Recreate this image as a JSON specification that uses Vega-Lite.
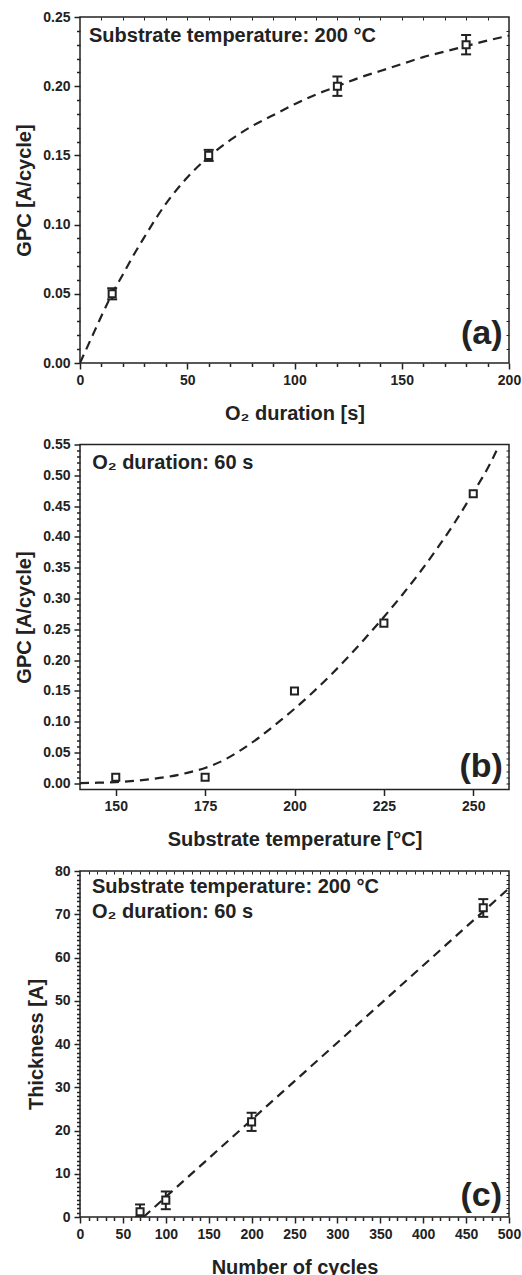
{
  "$schema": "https://vega.github.io/schema/vega-lite/v6.json",
  "padding": {"left": 14, "top": 9, "right": 0, "bottom": 5},
  "spacing": 81.5,
  "bounds": "flush",
  "datasets": {
    "fitA": [{"t":0,"g":0},{"t":5,"g":0.017},{"t":10,"g":0.034},{"t":15,"g":0.05},{"t":20,"g":0.064},{"t":25,"g":0.078},{"t":30,"g":0.091},{"t":40,"g":0.115},{"t":50,"g":0.134},{"t":60,"g":0.149},{"t":70,"g":0.161},{"t":80,"g":0.171},{"t":90,"g":0.179},{"t":100,"g":0.187},{"t":110,"g":0.194},{"t":120,"g":0.2},{"t":130,"g":0.206},{"t":140,"g":0.211},{"t":150,"g":0.216},{"t":160,"g":0.221},{"t":170,"g":0.225},{"t":180,"g":0.229},{"t":190,"g":0.233},{"t":200,"g":0.2365}],
    "ptsA": [{"t":15,"g":0.05,"lo":0.046,"hi":0.054},{"t":60,"g":0.15,"lo":0.146,"hi":0.154},{"t":120,"g":0.2,"lo":0.193,"hi":0.207},{"t":180,"g":0.23,"lo":0.223,"hi":0.237}],
    "fitB": [{"T":140,"g":0.0005},{"T":145,"g":0.001},{"T":150,"g":0.002},{"T":155,"g":0.004},{"T":160,"g":0.007},{"T":165,"g":0.011},{"T":170,"g":0.017},{"T":175,"g":0.025},{"T":180,"g":0.037},{"T":185,"g":0.054},{"T":190,"g":0.074},{"T":195,"g":0.097},{"T":200,"g":0.121},{"T":205,"g":0.147},{"T":210,"g":0.175},{"T":215,"g":0.205},{"T":220,"g":0.237},{"T":225,"g":0.27},{"T":230,"g":0.305},{"T":235,"g":0.342},{"T":240,"g":0.382},{"T":245,"g":0.425},{"T":250,"g":0.472},{"T":255,"g":0.522},{"T":256.5,"g":0.54}],
    "ptsB": [{"T":150,"g":0.01},{"T":175,"g":0.01},{"T":200,"g":0.15},{"T":225,"g":0.26},{"T":250,"g":0.47}],
    "fitC": [{"n":74,"th":0},{"n":500,"th":76}],
    "ptsC": [{"n":70,"th":1.2,"lo":0,"hi":2.9},{"n":100,"th":3.9,"lo":1.8,"hi":5.9},{"n":200,"th":22,"lo":19.9,"hi":24.1},{"n":470,"th":71.5,"lo":69.4,"hi":73.5}]
  },
  "vconcat": [
    {
      "width": 429, "height": 346,
      "resolve": {"axis": {"x": "independent", "y": "independent"}},
      "layer": [
        {
          "data": {"name": "fitA"},
          "mark": {"type": "line", "strokeDash": [9, 6], "strokeWidth": 2.2, "color": "#222", "interpolate": "monotone", "clip": true},
          "encoding": {
            "x": {"field": "t", "type": "quantitative", "scale": {"domain": [0, 200], "nice": false, "zero": false},
                  "axis": {"orient": "bottom", "values": [0,10,20,30,40,50,60,70,80,90,100,110,120,130,140,150,160,170,180,190,200],
                           "labelExpr": "datum.value % 50 === 0 ? datum.label : ''",
                           "tickSize": {"condition": {"test": "datum.value % 50 === 0", "value": 6}, "value": 3.5},
                           "title": "O₂ duration [s]"}},
            "y": {"field": "g", "type": "quantitative", "scale": {"domain": [0, 0.25], "nice": false},
                  "axis": {"orient": "left", "values": [0,0.01,0.02,0.03,0.04,0.05,0.06,0.07,0.08,0.09,0.1,0.11,0.12,0.13,0.14,0.15,0.16,0.17,0.18,0.19,0.2,0.21,0.22,0.23,0.24,0.25],
                           "labelExpr": "round(datum.value*100) % 5 === 0 ? format(datum.value, '.2f') : ''",
                           "tickSize": {"condition": {"test": "round(datum.value*100) % 5 === 0", "value": 6}, "value": 3.5},
                           "title": "GPC [A/cycle]", "titlePadding": 8}}
          }
        },
        {
          "data": {"name": "ptsA"},
          "mark": {"type": "rule", "strokeWidth": 2, "color": "#222"},
          "encoding": {
            "x": {"field": "t", "type": "quantitative", "axis": null},
            "y": {"field": "lo", "type": "quantitative", "axis": null},
            "y2": {"field": "hi"}
          }
        },
        {
          "data": {"values": [{}]},
          "mark": {"type": "text", "text": "Substrate temperature: 200 °C", "align": "left", "baseline": "alphabetic", "fontSize": 20},
          "encoding": {
            "x": {"datum": 4.2, "type": "quantitative", "axis": {"orient": "top", "values": [10,20,30,40,50,60,70,80,90,100,110,120,130,140,150,160,170,180,190], "labels": false, "tickSize": -3, "title": null, "tickWidth": 1}},
            "y": {"datum": 0.232, "type": "quantitative", "axis": {"orient": "right", "values": [0.01,0.02,0.03,0.04,0.05,0.06,0.07,0.08,0.09,0.1,0.11,0.12,0.13,0.14,0.15,0.16,0.17,0.18,0.19,0.2,0.21,0.22,0.23,0.24], "labels": false, "tickSize": -3, "title": null, "tickWidth": 1}}
          }
        },
        {
          "data": {"name": "ptsA"},
          "mark": {"type": "tick", "orient": "horizontal", "size": 10, "thickness": 2, "color": "#222", "opacity": 1},
          "encoding": {
            "x": {"field": "t", "type": "quantitative", "axis": null},
            "y": {"field": "lo", "type": "quantitative", "axis": null}
          }
        },
        {
          "data": {"name": "ptsA"},
          "mark": {"type": "tick", "orient": "horizontal", "size": 10, "thickness": 2, "color": "#222", "opacity": 1},
          "encoding": {
            "x": {"field": "t", "type": "quantitative", "axis": null},
            "y": {"field": "hi", "type": "quantitative", "axis": null}
          }
        },
        {
          "data": {"name": "ptsA"},
          "mark": {"type": "point", "shape": "square", "filled": true, "fill": "white", "stroke": "#222", "strokeWidth": 2, "size": 50, "opacity": 1},
          "encoding": {
            "x": {"field": "t", "type": "quantitative", "axis": null},
            "y": {"field": "g", "type": "quantitative", "axis": null}
          }
        },
        {
          "data": {"values": [{}]},
          "mark": {"type": "text", "text": "(a)", "align": "right", "baseline": "alphabetic", "fontSize": 34},
          "encoding": {
            "x": {"datum": 197, "type": "quantitative", "axis": null},
            "y": {"datum": 0.014, "type": "quantitative", "axis": null}
          }
        }
      ]
    },
    {
      "width": 429, "height": 345,
      "resolve": {"axis": {"x": "independent", "y": "independent"}},
      "layer": [
        {
          "data": {"name": "fitB"},
          "mark": {"type": "line", "strokeDash": [9, 6], "strokeWidth": 2.2, "color": "#222", "interpolate": "monotone", "clip": true},
          "encoding": {
            "x": {"field": "T", "type": "quantitative", "scale": {"domain": [140, 260], "nice": false, "zero": false},
                  "axis": {"orient": "bottom", "values": [150, 175, 200, 225, 250], "tickSize": 6, "title": "Substrate temperature [°C]"}},
            "y": {"field": "g", "type": "quantitative", "scale": {"domain": [-0.01, 0.55], "nice": false, "zero": false},
                  "axis": {"orient": "left", "values": [0,0.01,0.02,0.03,0.04,0.05,0.06,0.07,0.08,0.09,0.1,0.11,0.12,0.13,0.14,0.15,0.16,0.17,0.18,0.19,0.2,0.21,0.22,0.23,0.24,0.25,0.26,0.27,0.28,0.29,0.3,0.31,0.32,0.33,0.34,0.35,0.36,0.37,0.38,0.39,0.4,0.41,0.42,0.43,0.44,0.45,0.46,0.47,0.48,0.49,0.5,0.51,0.52,0.53,0.54,0.55],
                           "labelExpr": "round(datum.value*100) % 5 === 0 ? format(datum.value, '.2f') : ''",
                           "tickSize": {"condition": {"test": "round(datum.value*100) % 5 === 0", "value": 6}, "value": 3.5},
                           "title": "GPC [A/cycle]", "titlePadding": 8}}
          }
        },
        {
          "data": {"name": "ptsB"},
          "mark": {"type": "point", "shape": "square", "filled": true, "fill": "white", "stroke": "#222", "strokeWidth": 2, "size": 50, "opacity": 1},
          "encoding": {
            "x": {"field": "T", "type": "quantitative", "axis": null},
            "y": {"field": "g", "type": "quantitative", "axis": null}
          }
        },
        {
          "data": {"values": [{}]},
          "mark": {"type": "text", "text": "O₂ duration: 60 s", "align": "left", "baseline": "alphabetic", "fontSize": 20},
          "encoding": {
            "x": {"datum": 143.4, "type": "quantitative", "axis": null},
            "y": {"datum": 0.511, "type": "quantitative", "axis": {"orient": "right", "values": [0,0.01,0.02,0.03,0.04,0.05,0.06,0.07,0.08,0.09,0.1,0.11,0.12,0.13,0.14,0.15,0.16,0.17,0.18,0.19,0.2,0.21,0.22,0.23,0.24,0.25,0.26,0.27,0.28,0.29,0.3,0.31,0.32,0.33,0.34,0.35,0.36,0.37,0.38,0.39,0.4,0.41,0.42,0.43,0.44,0.45,0.46,0.47,0.48,0.49,0.5,0.51,0.52,0.53,0.54], "labels": false, "tickSize": -3, "title": null, "tickWidth": 1}}
          }
        },
        {
          "data": {"values": [{}]},
          "mark": {"type": "text", "text": "(b)", "align": "right", "baseline": "alphabetic", "fontSize": 34},
          "encoding": {
            "x": {"datum": 258.3, "type": "quantitative", "axis": null},
            "y": {"datum": 0.011, "type": "quantitative", "axis": null}
          }
        }
      ]
    },
    {
      "width": 429, "height": 346,
      "resolve": {"axis": {"x": "independent", "y": "independent"}},
      "layer": [
        {
          "data": {"name": "fitC"},
          "mark": {"type": "line", "strokeDash": [9, 6], "strokeWidth": 2.2, "color": "#222", "clip": true},
          "encoding": {
            "x": {"field": "n", "type": "quantitative", "scale": {"domain": [0, 500], "nice": false},
                  "axis": {"orient": "bottom", "values": [0,10,20,30,40,50,60,70,80,90,100,110,120,130,140,150,160,170,180,190,200,210,220,230,240,250,260,270,280,290,300,310,320,330,340,350,360,370,380,390,400,410,420,430,440,450,460,470,480,490,500],
                           "labelExpr": "datum.value % 50 === 0 ? datum.label : ''",
                           "tickSize": {"condition": {"test": "datum.value % 50 === 0", "value": 6}, "value": 3.5},
                           "title": "Number of cycles"}},
            "y": {"field": "th", "type": "quantitative", "scale": {"domain": [0, 80], "nice": false},
                  "axis": {"orient": "left", "values": [0,1,2,3,4,5,6,7,8,9,10,11,12,13,14,15,16,17,18,19,20,21,22,23,24,25,26,27,28,29,30,31,32,33,34,35,36,37,38,39,40,41,42,43,44,45,46,47,48,49,50,51,52,53,54,55,56,57,58,59,60,61,62,63,64,65,66,67,68,69,70,71,72,73,74,75,76,77,78,79,80],
                           "labelExpr": "datum.value % 10 === 0 ? datum.label : ''",
                           "tickSize": {"condition": {"test": "datum.value % 10 === 0", "value": 6}, "value": 3.5},
                           "title": "Thickness [A]", "titlePadding": 8}}
          }
        },
        {
          "data": {"name": "ptsC"},
          "mark": {"type": "rule", "strokeWidth": 2, "color": "#222", "clip": true},
          "encoding": {
            "x": {"field": "n", "type": "quantitative", "axis": null},
            "y": {"field": "lo", "type": "quantitative", "axis": null},
            "y2": {"field": "hi"}
          }
        },
        {
          "data": {"values": [{}]},
          "mark": {"type": "text", "text": "Substrate temperature: 200 °C", "align": "left", "baseline": "alphabetic", "fontSize": 20},
          "encoding": {
            "x": {"datum": 14, "type": "quantitative", "axis": {"orient": "top", "values": [10,20,30,40,50,60,70,80,90,100,110,120,130,140,150,160,170,180,190,200,210,220,230,240,250,260,270,280,290,300,310,320,330,340,350,360,370,380,390,400,410,420,430,440,450,460,470,480,490], "labels": false, "tickSize": -3, "title": null, "tickWidth": 1}},
            "y": {"datum": 74.9, "type": "quantitative", "axis": {"orient": "right", "values": [1,2,3,4,5,6,7,8,9,10,11,12,13,14,15,16,17,18,19,20,21,22,23,24,25,26,27,28,29,30,31,32,33,34,35,36,37,38,39,40,41,42,43,44,45,46,47,48,49,50,51,52,53,54,55,56,57,58,59,60,61,62,63,64,65,66,67,68,69,70,71,72,73,74,75,76,77,78,79], "labels": false, "tickSize": -3, "title": null, "tickWidth": 1}}
          }
        },
        {
          "data": {"values": [{}]},
          "mark": {"type": "text", "text": "O₂ duration: 60 s", "align": "left", "baseline": "alphabetic", "fontSize": 20},
          "encoding": {
            "x": {"datum": 14, "type": "quantitative", "axis": null},
            "y": {"datum": 69.1, "type": "quantitative", "axis": null}
          }
        },
        {
          "data": {"name": "ptsC"},
          "mark": {"type": "tick", "orient": "horizontal", "size": 10, "thickness": 2, "color": "#222", "opacity": 1, "clip": true},
          "encoding": {
            "x": {"field": "n", "type": "quantitative", "axis": null},
            "y": {"field": "lo", "type": "quantitative", "axis": null}
          }
        },
        {
          "data": {"name": "ptsC"},
          "mark": {"type": "tick", "orient": "horizontal", "size": 10, "thickness": 2, "color": "#222", "opacity": 1},
          "encoding": {
            "x": {"field": "n", "type": "quantitative", "axis": null},
            "y": {"field": "hi", "type": "quantitative", "axis": null}
          }
        },
        {
          "data": {"name": "ptsC"},
          "mark": {"type": "point", "shape": "square", "filled": true, "fill": "white", "stroke": "#222", "strokeWidth": 2, "size": 50, "opacity": 1},
          "encoding": {
            "x": {"field": "n", "type": "quantitative", "axis": null},
            "y": {"field": "th", "type": "quantitative", "axis": null}
          }
        },
        {
          "data": {"values": [{}]},
          "mark": {"type": "text", "text": "(c)", "align": "right", "baseline": "alphabetic", "fontSize": 34},
          "encoding": {
            "x": {"datum": 491.8, "type": "quantitative", "axis": null},
            "y": {"datum": 2.5, "type": "quantitative", "axis": null}
          }
        }
      ]
    }
  ],
  "config": {
    "font": "Liberation Sans",
    "view": {"stroke": "#222", "strokeWidth": 1.5},
    "axis": {
      "grid": false, "domain": false, "ticks": true, "tickOpacity": 1,
      "labelFont": "Liberation Sans", "labelFontWeight": "bold", "labelFontSize": 14, "labelColor": "#222",
      "titleFont": "Liberation Sans", "titleFontWeight": "bold", "titleFontSize": 20, "titleColor": "#222",
      "tickColor": "#222", "tickWidth": 1.5, "tickSize": 5, "labelPadding": 4, "titlePadding": 16,
      "labelFlush": false, "labelOverlap": false
    },
    "text": {"font": "Liberation Sans", "fontWeight": "bold", "color": "#222"}
  }
}
